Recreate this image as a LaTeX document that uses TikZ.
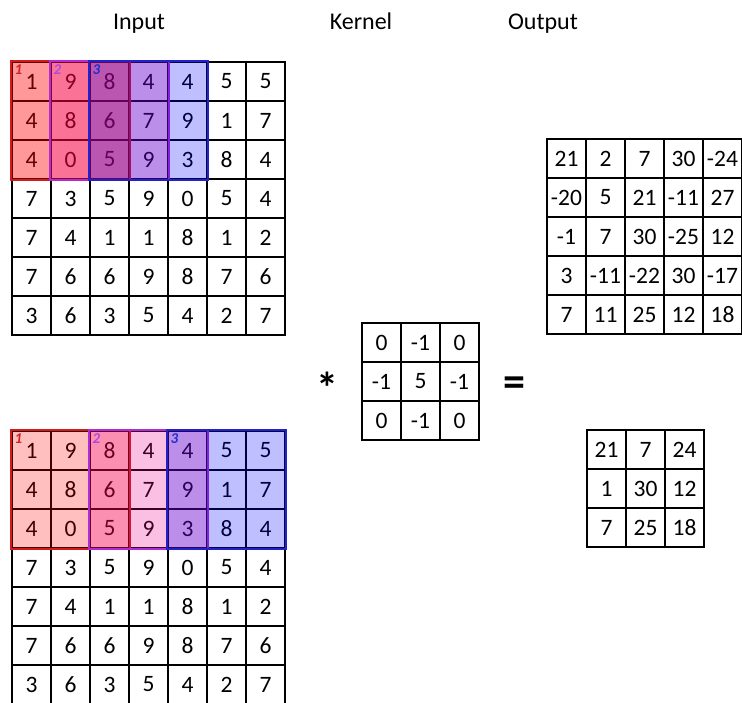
\documentclass[tikz,border=0pt]{standalone}
\usepackage{fontspec}
\setmainfont{Carlito}
\definecolor{winred}{HTML}{D01C1C}
\definecolor{winmag}{HTML}{B02CD8}
\definecolor{winblue}{HTML}{2222CC}
\definecolor{labred}{HTML}{D42020}
\definecolor{labmag}{HTML}{B048E0}
\definecolor{labblue}{HTML}{2030D0}
\tikzset{
  cell/.style={draw=black, line width=1.3pt, minimum size=39pt, inner sep=0pt,
    font=\fontsize{23.5}{27}\selectfont},
  title/.style={anchor=base, inner sep=0pt, font=\fontsize{24}{28}\selectfont},
  winlabel/.style={anchor=north west, inner sep=0pt,
    font=\fontsize{15}{17}\selectfont\bfseries\itshape},
  opsign/.style={anchor=base, inner sep=0pt, font=\fontsize{44}{48}\selectfont\bfseries},
  winframe/.style={line width=2pt},
}
% #1 name prefix, #2 left x, #3 top y, #4 list of rows
\newcommand\numgrid[4]{%
  \foreach \rowvals [count=\r from 0] in {#4} {
    \foreach \val [count=\c from 0] in \rowvals {
      \node[cell] (#1-\r-\c) at ({#2+19.5+39*\c},{#3+19.5+39*\r}) {\val};
    }
  }%
}
\begin{document}
\begin{tikzpicture}[x=1pt,y=-1pt]
\useasboundingbox (0,0) rectangle (742,702);

% titles
\node[title] (tin)  at (139,29) {Input};
\node[title] (tker) at (361,29) {Kernel};
\node[title] (tout) at (543,29) {Output};

% input, stride 1
\numgrid{a}{12}{62}{{1,9,8,4,4,5,5},{4,8,6,7,9,1,7},{4,0,5,9,3,8,4},{7,3,5,9,0,5,4},{7,4,1,1,8,1,2},{7,6,6,9,8,7,6},{3,6,3,5,4,2,7}}
% input, stride 2
\numgrid{b}{12}{431}{{1,9,8,4,4,5,5},{4,8,6,7,9,1,7},{4,0,5,9,3,8,4},{7,3,5,9,0,5,4},{7,4,1,1,8,1,2},{7,6,6,9,8,7,6},{3,6,3,5,4,2,7}}
% kernel
\numgrid{k}{362}{323}{{0,-1,0},{-1,5,-1},{0,-1,0}}
% outputs
\numgrid{o}{547}{139}{{21,2,7,30,-24},{-20,5,21,-11,27},{-1,7,30,-25,12},{3,-11,-22,30,-17},{7,11,25,12,18}}
\numgrid{p}{587}{430}{{21,7,24},{1,30,12},{7,25,18}}

% sliding windows, stride 1
\fill[red, fill opacity=0.4] (a-0-0.north west) rectangle (a-2-2.south east);
\draw[winframe, winred] (a-0-0.north west) rectangle (a-2-2.south east);
\fill[magenta, fill opacity=0.25] (a-0-1.north west) rectangle (a-2-3.south east);
\draw[winframe, winmag] (a-0-1.north west) rectangle (a-2-3.south east);
\fill[blue, fill opacity=0.25] (a-0-2.north west) rectangle (a-2-4.south east);
\draw[winframe, winblue] (a-0-2.north west) rectangle (a-2-4.south east);
\node[winlabel, text=labred]  (a1) at ([shift={(3,3)}]a-0-0.north west) {1};
\node[winlabel, text=labmag]  (a2) at ([shift={(3,3)}]a-0-1.north west) {2};
\node[winlabel, text=labblue] (a3) at ([shift={(3,3)}]a-0-2.north west) {3};

% sliding windows, stride 2
\fill[red, fill opacity=0.25] (b-0-0.north west) rectangle (b-2-2.south east);
\draw[winframe, winred] (b-0-0.north west) rectangle (b-2-2.south east);
\fill[magenta, fill opacity=0.25] (b-0-2.north west) rectangle (b-2-4.south east);
\draw[winframe, winmag] (b-0-2.north west) rectangle (b-2-4.south east);
\fill[blue, fill opacity=0.25] (b-0-4.north west) rectangle (b-2-6.south east);
\draw[winframe, winblue] (b-0-4.north west) rectangle (b-2-6.south east);
\node[winlabel, text=labred]  (b1) at ([shift={(3,3)}]b-0-0.north west) {1};
\node[winlabel, text=labmag]  (b2) at ([shift={(3,3)}]b-0-2.north west) {2};
\node[winlabel, text=labblue] (b3) at ([shift={(3,3)}]b-0-4.north west) {3};

% operators
\node[opsign] (star) at (327,403) {*};
\node[opsign] (eq)   at (514,396) {=};
\end{tikzpicture}
\end{document}
